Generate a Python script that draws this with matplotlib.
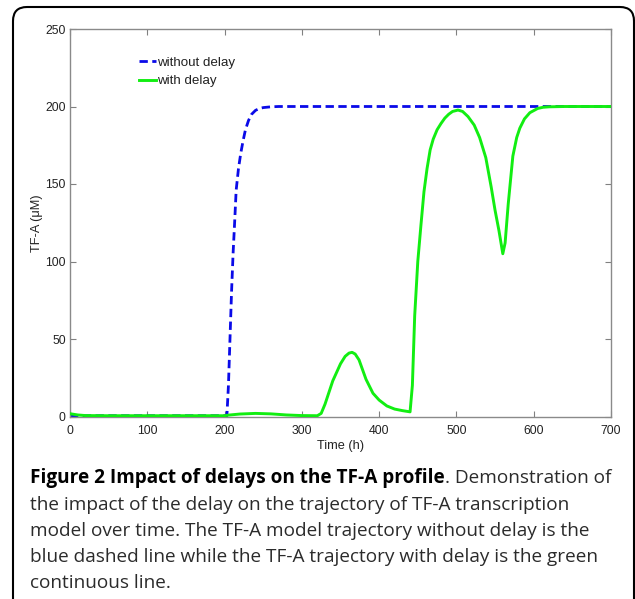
import matplotlib
matplotlib.use('Agg')
import matplotlib.pyplot as plt
from matplotlib.patches import FancyBboxPatch
from matplotlib.transforms import IdentityTransform

# time axis (h) and TF-A level (uM)
t_nodelay = [0, 50, 100, 150, 203, 205, 207, 209, 211, 213, 215, 218, 221, 224,
             227, 231, 235, 240, 245, 250, 260, 270, 700]
v_nodelay = [0.5, 0.5, 0.5, 0.5, 0.5, 20, 50, 80, 105, 125, 146, 160, 170, 178,
             185, 191, 195, 197.5, 198.7, 199.3, 199.8, 200, 200]

t_delay = [0, 10, 20, 50, 100, 150, 200, 205, 220, 240, 260, 280, 300, 320, 325,
           330, 340, 350, 356, 361, 365, 369, 374, 383, 392, 400, 410, 420, 430,
           440, 443, 446, 450, 454, 458, 462, 466, 470, 475, 480, 485, 490, 495,
           502, 508, 515, 523, 530, 538, 545, 550, 555, 560, 563, 567, 573, 578,
           582, 588, 595, 605, 612, 620, 640, 700]
v_delay = [1.8, 1.0, 0.6, 0.5, 0.5, 0.5, 0.5, 0.9, 1.6, 2.0, 1.7, 1.0, 0.6, 0.5, 2,
           8, 23, 34, 38.8, 40.9, 41.4, 40.3, 36.5, 24, 15, 10.6, 6.8, 4.8, 3.8,
           3.0, 20, 65, 100, 123, 145, 160, 172, 179, 185, 189, 192.5, 195, 196.8,
           197.7, 196.8, 193.5, 188, 180, 167, 148, 133, 120, 105, 112, 137, 168, 180,
           186, 192, 196, 198.7, 199.5, 199.8, 200, 200]

x_ticks = [0, 100, 200, 300, 400, 500, 600, 700]
y_ticks = [0, 50, 100, 150, 200, 250]

caption_bold = 'Figure 2 Impact of delays on the TF-A profile'
caption_lines = [
    '. Demonstration of',
    'the impact of the delay on the trajectory of TF-A transcription',
    'model over time. The TF-A model trajectory without delay is the',
    'blue dashed line while the TF-A trajectory with delay is the green',
    'continuous line.',
]

W, H = 635, 599
fig = plt.figure(figsize=(W / 100, H / 100), dpi=100)
ax = fig.add_axes([70 / W, (H - 416.5) / H, 541 / W, 387.5 / H])

ax.plot(t_nodelay, v_nodelay, color='#0a0ae8', lw=2, ls=(0, (3, 1.6)),
        label='without delay', zorder=2)
ax.plot(t_delay, v_delay, color='#12ee12', lw=2.1, label='with delay', zorder=3)

ax.set_xlim(0, 700)
ax.set_ylim(0, 250)
ax.set_xticks(x_ticks)
ax.set_yticks(y_ticks)
tick_font = dict(family='Liberation Sans', size=8.8)
ax.set_xticklabels([str(v) for v in x_ticks], **tick_font)
ax.set_yticklabels([str(v) for v in y_ticks], **tick_font)
ax.tick_params(direction='in', length=4, width=0.8, color='#808080',
               top=True, right=True, labelcolor='#222222', pad=3)
ax.tick_params(axis='x', pad=6)
for s in ax.spines.values():
    s.set_color('#8a8a8a')
    s.set_linewidth(1)
ax.set_xlabel('Time (h)', family='Liberation Sans', size=9.2, color='#222222', labelpad=2)
ax.set_ylabel('TF-A (μM)', family='Liberation Sans', size=9.2, color='#222222', labelpad=2)

leg = ax.legend(loc='upper left', bbox_to_anchor=(0.117, 0.942), frameon=False,
                prop=dict(family='Liberation Sans', size=9.6),
                handlelength=1.3, handletextpad=0.1, labelspacing=0.45,
                borderaxespad=0)
for txt in leg.get_texts():
    txt.set_color('#222222')

# rounded frame around the figure panel
frame = FancyBboxPatch((13, -40), 621, H - 7 + 40,
                       boxstyle='round,pad=0,rounding_size=14',
                       transform=IdentityTransform(), fill=False,
                       edgecolor='black', lw=1.5)
fig.patches.append(frame)

# caption
cap_size = 13.7
line_y = [478, 505, 531, 557, 583]
x0 = 30 / W
tb = fig.text(x0, 1 - line_y[0] / H, caption_bold, family='Open Sans', weight='bold',
              size=cap_size, color='black', va='center')
fig.canvas.draw()
bb = tb.get_window_extent()
fig.text(bb.x1 / W, 1 - line_y[0] / H, caption_lines[0], family='Open Sans',
         size=cap_size, color='#2b2b2b', va='center')
for y, line in zip(line_y[1:], caption_lines[1:]):
    fig.text(x0, 1 - y / H, line, family='Open Sans', size=cap_size,
             color='#2b2b2b', va='center')

fig.savefig('out.png', dpi=100)
